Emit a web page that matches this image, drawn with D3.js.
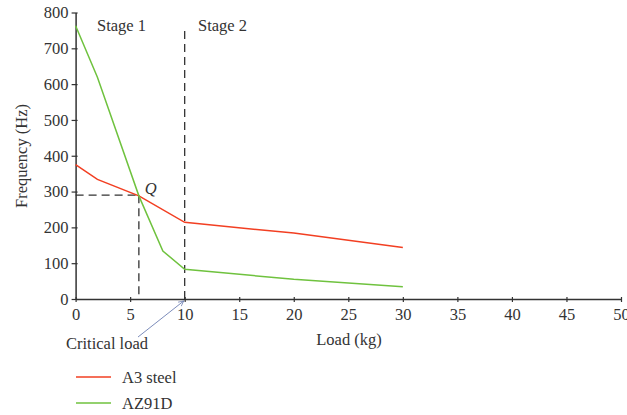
<!DOCTYPE html>
<html>
<head>
<meta charset="utf-8">
<script src="https://cdn.jsdelivr.net/npm/d3@7"></script>
<style>
body { margin: 0; background: #fff; }
text { font-family: "Liberation Serif", "DejaVu Serif", serif; fill: #333; }
</style>
</head>
<body>
<svg width="627" height="415"></svg>
<script>
// data
const steelLoad = [0, 2, 5.8, 10, 20, 30];
const steelFreq = [375, 334, 288, 214, 184, 144];
const azLoad = [0, 2, 5.8, 8, 10, 20, 30];
const azFreq = [763, 619, 288, 134, 83, 55, 34];
const xTicks = [0, 5, 10, 15, 20, 25, 30, 35, 40, 45, 50];
const yTicks = [0, 100, 200, 300, 400, 500, 600, 700, 800];
const qPoint = [5.8, 290];
const criticalLoad = 10;
const seriesNames = ["A3 steel", "AZ91D"];
const colors = ["#f23f22", "#6fc23e"];

const svg = d3.select("svg");
const x = d3.scaleLinear().domain([0, 50]).range([75.6, 621]);
const y = d3.scaleLinear().domain([0, 800]).range([299, 12.5]);
const axisColor = "#333";

const xAxis = svg.append("g").attr("transform", "translate(0," + y(0) + ")")
  .call(d3.axisBottom(x).tickValues(xTicks).tickSize(4).tickSizeOuter(0));
const yAxis = svg.append("g").attr("transform", "translate(" + x(0) + ",0)")
  .call(d3.axisLeft(y).tickValues(yTicks).tickSize(4).tickSizeOuter(0));
[xAxis, yAxis].forEach(a => {
  a.select(".domain").attr("stroke", axisColor).attr("stroke-width", 1.5);
  a.selectAll(".tick line").attr("stroke", axisColor).attr("stroke-width", 1.2);
  a.selectAll(".tick text").attr("font-size", 16.5).attr("fill", axisColor)
    .style("font-family", "'Liberation Serif', serif");
});
xAxis.selectAll(".tick line").attr("y1", -2).attr("y2", 3);
xAxis.selectAll(".tick text").attr("y", 9);
yAxis.selectAll(".tick line").attr("x1", 2).attr("x2", -4);
yAxis.selectAll(".tick text").attr("x", -7);

// dashed guides
const dash = "8,5";
svg.append("line").attr("x1", x(0)).attr("x2", x(qPoint[0])).attr("y1", y(qPoint[1])).attr("y2", y(qPoint[1]))
  .attr("stroke", axisColor).attr("stroke-width", 1.3).attr("stroke-dasharray", dash);
svg.append("line").attr("x1", x(qPoint[0])).attr("x2", x(qPoint[0])).attr("y1", y(qPoint[1])).attr("y2", y(0))
  .attr("stroke", axisColor).attr("stroke-width", 1.3).attr("stroke-dasharray", dash);
svg.append("line").attr("x1", x(criticalLoad)).attr("x2", x(criticalLoad)).attr("y1", y(0)).attr("y2", y(760))
  .attr("stroke", axisColor).attr("stroke-width", 1.3).attr("stroke-dasharray", dash);

// series
const line = d3.line().x(d => x(d[0])).y(d => y(d[1]));
const series = [d3.zip(steelLoad, steelFreq), d3.zip(azLoad, azFreq)];
series.forEach((s, i) => {
  svg.append("path").datum(s).attr("d", line).attr("fill", "none")
    .attr("stroke", colors[i]).attr("stroke-width", 1.5);
});

// labels
svg.append("text").attr("x", 97).attr("y", 31).attr("font-size", 16.5).text("Stage 1");
svg.append("text").attr("x", 198).attr("y", 31).attr("font-size", 16.5).text("Stage 2");
svg.append("text").attr("x", x(qPoint[0]) + 6).attr("y", y(qPoint[1]) - 1).attr("font-size", 16.5)
  .attr("font-style", "italic").text("Q");

svg.append("text").attr("transform", "translate(27,156) rotate(-90)").attr("text-anchor", "middle")
  .attr("font-size", 16.5).text("Frequency (Hz)");
svg.append("text").attr("x", 349).attr("y", 345).attr("text-anchor", "middle")
  .attr("font-size", 16.5).text("Load (kg)");

// critical load annotation
svg.append("defs").append("marker").attr("id", "arr").attr("viewBox", "0 0 10 10")
  .attr("refX", 9).attr("refY", 5).attr("markerWidth", 8).attr("markerHeight", 8).attr("orient", "auto")
  .append("path").attr("d", "M1,1 L9,5 L1,9").attr("fill", "none").attr("stroke", "#5b6ea8").attr("stroke-width", 1);
svg.append("line").attr("x1", 138).attr("y1", 337).attr("x2", x(criticalLoad) - 1).attr("y2", y(0) + 2)
  .attr("stroke", "#5b6ea8").attr("stroke-width", 0.8).attr("marker-end", "url(#arr)");
svg.append("text").attr("x", 66).attr("y", 349).attr("font-size", 16.5).text("Critical load");

// legend
seriesNames.forEach((n, i) => {
  const ly = 377 + i * 26;
  svg.append("line").attr("x1", 76).attr("x2", 111).attr("y1", ly).attr("y2", ly)
    .attr("stroke", colors[i]).attr("stroke-width", 1.5);
  svg.append("text").attr("x", 122).attr("y", ly + 5.5).attr("font-size", 16.5).text(n);
});
</script>
</body>
</html>
